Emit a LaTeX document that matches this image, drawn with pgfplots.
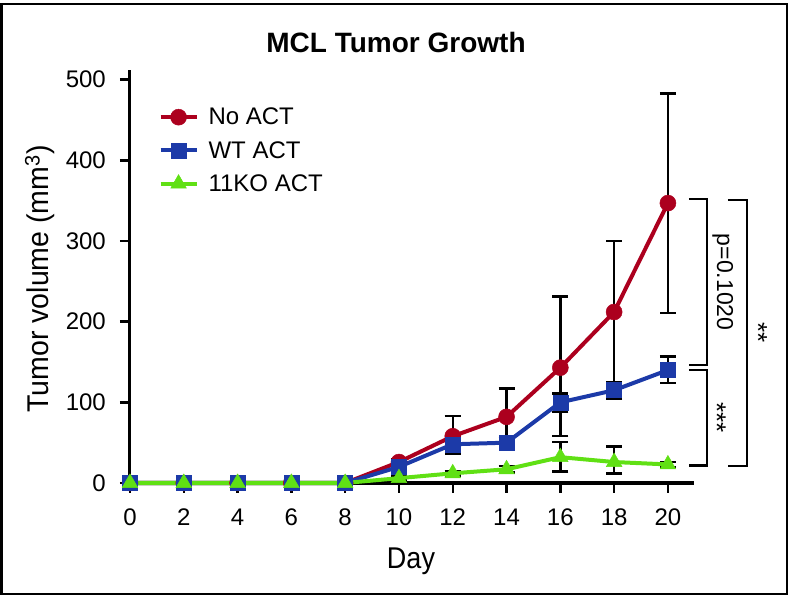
\documentclass[border=0pt]{standalone}
\usepackage{fontspec}
\setmainfont{Liberation Sans}
\newfontfamily\narrowfont[FakeStretch=0.9]{Liberation Sans}
\newfontfamily\ylabfont[FakeStretch=0.95]{Liberation Sans}
\usepackage{pgfplots}
\pgfplotsset{compat=1.18}
\definecolor{cred}{RGB}{172,0,30}
\definecolor{cblue}{RGB}{28,58,168}
\definecolor{cgreen}{RGB}{96,224,20}
\newcommand{\tickfont}{\fontsize{24bp}{28bp}\selectfont}
\begin{document}
\begin{tikzpicture}
\path[use as bounding box] (-130bp,-116bp) rectangle (661bp,483bp);
\draw[line width=2.5bp] (-128.5bp,-111bp) rectangle (657bp,479bp);
\begin{axis}[
  at={(0,0)}, anchor=south west, scale only axis,
  width=564bp, height=413bp,
  xmin=0, xmax=20.97, ymin=0, ymax=512,
  axis lines*=left,
  axis line style={line width=3bp},
  xtick={0,2,...,20}, ytick={0,100,...,500},
  xticklabels={0,2,4,6,8,10,12,14,16,18,20},
  yticklabels={0,100,200,300,400,500},
  tick align=outside, major tick length=10bp,
  tick style={black, line width=2.5bp},
  xticklabel style={font=\tickfont, anchor=base, yshift=-32bp},
  yticklabel style={font=\tickfont, anchor=east, inner sep=0pt, xshift=-14bp},
  clip=false,
  legend cell align=left,
  legend style={draw=none, fill=none, at={(rel axis cs:0.045,0.918)}, anchor=north west,
     font=\tickfont, row sep=11bp,
     /tikz/every odd column/.append style={column sep=8bp}},
  legend image code/.code={\draw[mark repeat=2,mark phase=2] plot coordinates {(0bp,0bp) (18bp,0bp) (36bp,0bp)};},
  error bars/error bar style={draw=black, line width=2.5bp},
  error bars/error mark options={draw=black, line width=2.5bp, mark size=8bp, rotate=90},
]
% error bars (drawn first)
\addplot[forget plot, draw=none, mark=none, error bars/.cd, y dir=both, y explicit]
 coordinates {(10,26) +- (0,4) (12,58) += (0,25) -= (0,20) (14,82) += (0,35) -= (0,35)
  (16,143) += (0,88) -= (0,85) (18,212) += (0,88) -= (0,88) (20,347) += (0,136) -= (0,136)};
\addplot[forget plot, draw=none, mark=none, error bars/.cd, y dir=both, y explicit]
 coordinates {(10,20) +- (0,3) (12,48) += (0,10) -= (0,12) (14,50) +- (0,5)
  (16,100) += (0,11) -= (0,12) (18,115) +- (0,10) (20,140) += (0,17) -= (0,16)};
\addplot[forget plot, draw=none, mark=none, error bars/.cd, y dir=both, y explicit]
 coordinates {(10,6) +- (0,2) (12,12) +- (0,3) (14,17) +- (0,4)
  (16,32) += (0,19) -= (0,18) (18,26) += (0,19) -= (0,14) (20,23) +- (0,3)};
% series
\addplot[cred, line width=4bp, mark=*, mark size=8bp, mark options={solid, fill=cred, draw=cred, line width=0.5bp}]
 coordinates {(0,0) (2,0) (4,0) (6,0) (8,0) (10,26) (12,58) (14,82) (16,143) (18,212) (20,347)};
\addlegendentry{No ACT}
\addplot[cblue, line width=4bp, mark=square*, mark size=7.5bp, mark options={solid, fill=cblue, draw=cblue, line width=0.5bp}]
 coordinates {(0,0) (2,0) (4,0) (6,0) (8,0) (10,20) (12,48) (14,50) (16,100) (18,115) (20,140)};
\addlegendentry{WT ACT}
\addplot[cgreen, line width=4bp, mark=triangle*, mark size=9bp, mark options={solid, fill=cgreen, draw=cgreen, line width=0.5bp}]
 coordinates {(0,0) (2,0) (4,0) (6,0) (8,0) (10,6) (12,12) (14,17) (16,32) (18,26) (20,23)};
\addlegendentry{11KO ACT}
% significance brackets
\draw[line width=2.5bp] (axis cs:20.78,352) -| (axis cs:21.45,146) -- (axis cs:20.78,146);
\draw[line width=2.5bp] (axis cs:20.78,140) -| (axis cs:21.45,22) -- (axis cs:20.78,22);
\draw[line width=2.5bp] (axis cs:22.23,351) -| (axis cs:22.94,21) -- (axis cs:22.23,21);
\node[rotate=-90, font=\fontsize{23bp}{27bp}\selectfont] at (axis cs:22.04,249) {p=0.1020};
\node[rotate=-90, font=\fontsize{26bp}{28bp}\selectfont] at (axis cs:21.82,81) {***};
\node[rotate=-90, font=\fontsize{26bp}{28bp}\selectfont] at (axis cs:23.35,186) {**};
\end{axis}
\node[anchor=base, font=\fontsize{28bp}{32bp}\selectfont\bfseries] at (266bp,430bp) {MCL Tumor Growth};
\node[anchor=base, font=\fontsize{30bp}{36bp}\selectfont\narrowfont] at (281bp,-85bp) {Day};
\node[rotate=90, anchor=center, font=\fontsize{30bp}{36bp}\selectfont\ylabfont] at (-90bp,204bp) {Tumor volume (mm\textsuperscript{3})};
\end{tikzpicture}
\end{document}
